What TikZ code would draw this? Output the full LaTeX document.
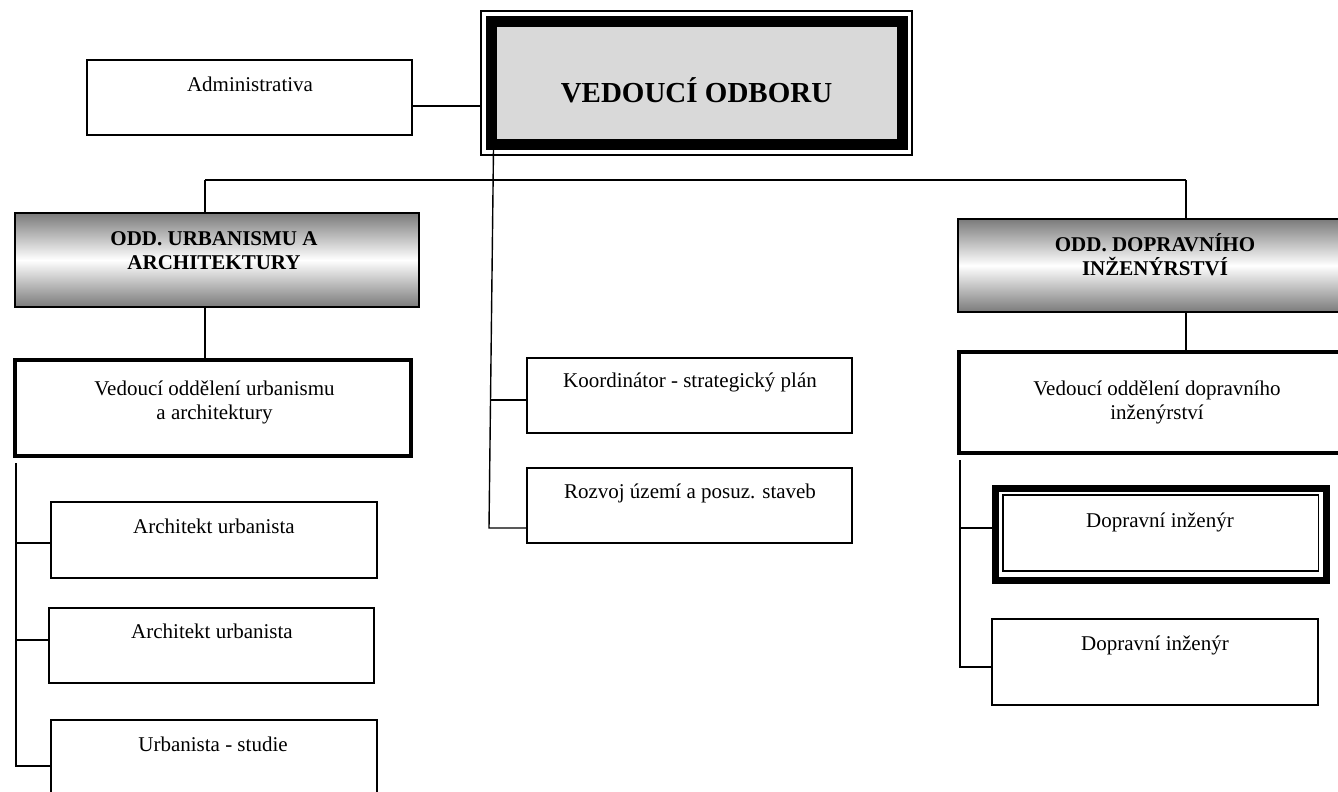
\documentclass[tikz,border=0pt]{standalone}
\usepackage{fontspec}
\setmainfont{Liberation Serif}
\begin{document}
\begin{tikzpicture}[x=1pt,y=-1pt,
  box/.style={draw, line width=1.4pt, inner sep=0pt, outer sep=0pt, fill=white},
  thickbox/.style={draw, line width=4pt, inner sep=0pt, outer sep=0pt, fill=white},
  oddbox/.style={draw, line width=1.5pt, inner sep=0pt, outer sep=0pt,
    top color=black!52, bottom color=black!52, middle color=white},
  ln/.style={line width=1.4pt},
  txt/.style={font=\fontsize{21}{24}\selectfont, align=center, inner sep=0pt, anchor=base},
  btxt/.style={font=\fontsize{21}{24}\selectfont\bfseries, align=center, inner sep=0pt, anchor=base}]
\useasboundingbox (0,0) rectangle (1338,792);
\clip (0,0) rectangle (1338,792);

% top box
\node[draw, line width=1.5pt, minimum width=431, minimum height=144, inner sep=0pt, outer sep=0pt] (top) at (696.5,83) {};
\node[draw, line width=11pt, fill=black!15, minimum width=411, minimum height=122.5, inner sep=0pt] (band) at (696.5,83) {};
\node[font=\fontsize{29}{32}\selectfont\bfseries, inner sep=0pt, anchor=base] (topT) at (696.5,102) {VEDOUCÍ ODBORU};

% administrativa
\node[box, minimum width=325, minimum height=75] (adm) at (249.5,97.5) {};
\node[txt] (admT) at (250,91) {Administrativa};
\draw[ln] (adm.east |- 0,106) -- (top.west |- 0,106);

% main bar
\coordinate (barL) at (205,180);
\coordinate (barR) at (1186,180);
\draw[ln] (barL) -- (barR);

% left department
\node[oddbox, minimum width=404, minimum height=94] (urb) at (217,260) {};
\node[btxt] (urbT) at (214,269) {ODD. URBANISMU A\\ARCHITEKTURY};
\draw[ln] (barL) -- (urb.north -| barL);
\node[thickbox, minimum width=395.5, minimum height=96] (vurb) at (213,407.5) {};
\node[txt] (vurbT) at (214.5,419) {Vedoucí oddělení urbanismu\\a architektury};
\draw[ln] (urb.south -| barL) -- (vurb.north -| barL);

\node[box, minimum width=326, minimum height=76] (a1) at (214,540) {};
\node[txt] (a1T) at (214,533) {Architekt urbanista};
\node[box, minimum width=325, minimum height=75] (a2) at (211.5,645.5) {};
\node[txt] (a2T) at (212,638) {Architekt urbanista};
\node[box, minimum width=326, minimum height=76] (u1) at (214,758) {};
\node[txt] (u1T) at (213,751) {Urbanista - studie};
\coordinate (lsTop) at (16,463);
\coordinate (lsBot) at (16,766);
\draw[ln] (lsTop) -- (lsBot) -- (u1.west |- lsBot);
\draw[ln] (lsTop |- 0,543) -- (a1.west |- 0,543);
\draw[ln] (lsTop |- 0,640) -- (a2.west |- 0,640);

% middle staff
\node[box, minimum width=325, minimum height=75] (koo) at (689.5,395.5) {};
\node[txt] (kooT) at (690,387) {Koordinátor - strategický plán};
\node[box, minimum width=325, minimum height=75] (roz) at (689.5,505.5) {};
\node[txt] (rozT) at (690,498) {Rozvoj území a posuz. staveb};
\coordinate (msTop) at (493.5,148);
\coordinate (msBot) at (489,528);
\coordinate (msK) at (491.3,400);
\draw[ln] (msTop) -- (msBot) -- (roz.west |- msBot);
\draw[ln] (msK) -- (koo.west |- msK);

% right department
\node[oddbox, minimum width=394, minimum height=93] (dop) at (1155,265.5) {};
\node[btxt] (dopT) at (1155,275) {ODD. DOPRAVNÍHO\\INŽENÝRSTVÍ};
\draw[ln] (barR) -- (dop.north -| barR);
\node[thickbox, minimum width=396, minimum height=101] (vdop) at (1157,402.5) {};
\node[txt] (vdopT) at (1157,419) {Vedoucí oddělení dopravního\\inženýrství};
\draw[ln] (dop.south -| barR) -- (vdop.north -| barR);

\node[draw, line width=7pt, fill=white, minimum width=330.5, minimum height=91.5, inner sep=0pt, outer sep=0pt] (d1) at (1160.75,534.25) {};
\node[draw, line width=1.5pt, minimum width=315.5, minimum height=76, inner sep=0pt] (d1in) at (1160.75,533) {};
\node[txt] (d1T) at (1160,527) {Dopravní inženýr};
\node[box, minimum width=326, minimum height=86] (d2) at (1155,662) {};
\node[txt] (d2T) at (1155,650) {Dopravní inženýr};
\coordinate (rsTop) at (960,460);
\coordinate (rsBot) at (960,667);
\draw[ln] (rsTop) -- (rsBot) -- (d2.west |- rsBot);
\draw[ln] (rsTop |- 0,528) -- ([xshift=-3.5pt]d1.west |- 0,528);
\end{tikzpicture}
\end{document}
